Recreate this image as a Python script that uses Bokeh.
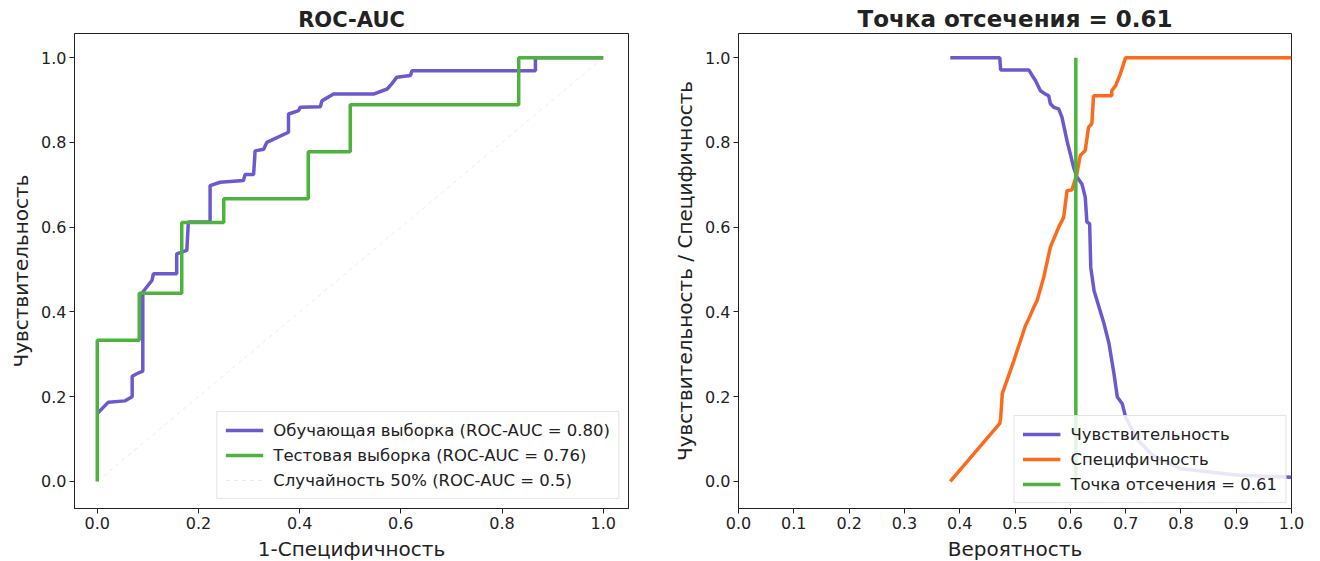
from bokeh.plotting import figure
from bokeh.layouts import row
from bokeh.models import Range1d, FixedTicker, PrintfTickFormatter, Legend, LegendItem
from bokeh.embed import file_html
from bokeh.resources import INLINE

# ---------------- data ----------------
train_fpr = [0.0, 0.022, 0.055, 0.069, 0.069, 0.078, 0.09, 0.09, 0.108, 0.111, 0.157, 0.157,
             0.177, 0.18, 0.223, 0.223, 0.243, 0.289, 0.292, 0.309, 0.312, 0.329, 0.335,
             0.378, 0.378, 0.398, 0.401, 0.441, 0.444, 0.467, 0.546, 0.573, 0.582, 0.592,
             0.619, 0.622, 0.866, 0.866, 1.0]
train_tpr = [0.16, 0.187, 0.19, 0.2, 0.248, 0.254, 0.26, 0.447, 0.474, 0.49, 0.49, 0.537,
             0.545, 0.612, 0.612, 0.698, 0.706, 0.71, 0.724, 0.724, 0.78, 0.784, 0.8,
             0.824, 0.867, 0.875, 0.883, 0.884, 0.898, 0.914, 0.914, 0.926, 0.938, 0.954,
             0.958, 0.969, 0.969, 1.0, 1.0]

test_fpr = [0.0, 0.0, 0.083, 0.083, 0.167, 0.167, 0.25, 0.25, 0.417, 0.417, 0.5, 0.5,
            0.833, 0.833, 1.0]
test_tpr = [0.0, 0.333, 0.333, 0.444, 0.444, 0.611, 0.611, 0.667, 0.667, 0.778, 0.778,
            0.889, 0.889, 1.0, 1.0]

chance_x = [0.0, 1.0]
chance_y = [0.0, 1.0]

sens_thr = [0.383, 0.4725, 0.474, 0.525, 0.531, 0.537, 0.546, 0.555, 0.561, 0.564, 0.57,
            0.579, 0.585, 0.594, 0.6, 0.606, 0.612, 0.621, 0.627, 0.63, 0.635, 0.637,
            0.643, 0.661, 0.67, 0.679, 0.685, 0.694, 0.7, 0.72, 0.75, 0.8, 0.9, 1.0]
sens_val = [1.0, 1.0, 0.971, 0.971, 0.958, 0.946, 0.922, 0.914, 0.91, 0.891, 0.883,
            0.879, 0.859, 0.804, 0.773, 0.741, 0.718, 0.702, 0.671, 0.612, 0.608, 0.505,
            0.45, 0.372, 0.325, 0.254, 0.199, 0.183, 0.152, 0.1, 0.06, 0.03, 0.015, 0.01]

spec_thr = [0.383, 0.4725, 0.474, 0.477, 0.498, 0.519, 0.525, 0.534, 0.54, 0.552, 0.564,
            0.579, 0.588, 0.594, 0.603, 0.612, 0.618, 0.627, 0.633, 0.639, 0.642, 0.675,
            0.675, 0.682, 0.69, 0.7, 1.0]
spec_val = [0.0, 0.137, 0.148, 0.207, 0.285, 0.368, 0.384, 0.411, 0.427, 0.482, 0.553,
            0.6, 0.623, 0.686, 0.688, 0.726, 0.769, 0.781, 0.836, 0.844, 0.91, 0.91,
            0.922, 0.934, 0.96, 1.0, 1.0]

cutoff = 0.61

x_ticks_left = [0.0, 0.2, 0.4, 0.6, 0.8, 1.0]
x_ticks_right = [0.0, 0.1, 0.2, 0.3, 0.4, 0.5, 0.6, 0.7, 0.8, 0.9, 1.0]
y_ticks = [0.0, 0.2, 0.4, 0.6, 0.8, 1.0]

BLUE = "#6A5ACD"
GREEN = "#4DB33D"
ORANGE = "#FA6B1E"
TXT = "#222222"
FONT = "DejaVu Sans"
LW = 3.5


def style(p, xticks, xlabel, ylabel, title_size):
    p.xgrid.visible = False
    p.ygrid.visible = False
    p.outline_line_color = "#222222"
    p.outline_line_width = 1
    p.xaxis.ticker = FixedTicker(ticks=xticks)
    p.yaxis.ticker = FixedTicker(ticks=y_ticks)
    for ax in (p.xaxis[0], p.yaxis[0]):
        ax.formatter = PrintfTickFormatter(format="%.1f")
        ax.axis_line_color = "#222222"
        ax.major_tick_line_color = "#222222"
        ax.major_tick_out = 5
        ax.major_tick_in = 0
        ax.minor_tick_line_color = None
        ax.major_label_text_font = FONT
        ax.major_label_text_font_size = "16px"
        ax.major_label_text_color = TXT
        ax.axis_label_text_font = FONT
        ax.axis_label_text_font_size = "20px"
        ax.axis_label_text_font_style = "normal"
        ax.axis_label_text_color = TXT
        ax.major_label_standoff = 3
        ax.axis_label_standoff = 5
    p.xaxis.axis_label = xlabel
    p.yaxis.axis_label = ylabel
    p.title.text_font = FONT
    p.title.text_font_size = title_size
    p.title.text_font_style = "bold"
    p.title.text_color = TXT
    p.title.align = "center"
    p.title.standoff = 4


def style_legend(leg):
    leg.label_text_font = FONT
    leg.label_text_font_size = "16.5px"
    leg.label_text_color = TXT
    leg.glyph_width = 38
    leg.glyph_height = 20
    leg.label_height = 20
    leg.label_standoff = 10
    leg.spacing = 5
    leg.padding = 8
    leg.border_line_color = "#cccccc"
    leg.border_line_width = 1
    leg.background_fill_color = "white"
    leg.background_fill_alpha = 0.85
    leg.margin = 9


# ---------------- left: ROC ----------------
p1 = figure(frame_width=554, frame_height=475, min_border_left=74, min_border_right=40,
            min_border_top=33, min_border_bottom=53,
            x_range=Range1d(-0.045, 1.05), y_range=Range1d(-0.064, 1.057),
            title="ROC-AUC", output_backend="svg", toolbar_location=None)
style(p1, x_ticks_left, "1-Специфичность", "Чувствительность", "21px")

r_ch = p1.line(chance_x, chance_y, line_color="#dddddd", line_width=1, line_dash="4 4",
               line_alpha=0.6)
r_tr = p1.line(train_fpr, train_tpr, line_color=BLUE, line_width=LW)
r_te = p1.line(test_fpr, test_tpr, line_color=GREEN, line_width=LW)

leg1 = Legend(items=[
    LegendItem(label="Обучающая выборка (ROC-AUC = 0.80)", renderers=[r_tr]),
    LegendItem(label="Тестовая выборка (ROC-AUC = 0.76)", renderers=[r_te]),
    LegendItem(label="Случайность 50% (ROC-AUC = 0.5)", renderers=[r_ch]),
], location="bottom_right")
style_legend(leg1)
p1.add_layout(leg1, "center")

# ---------------- right: cutoff ----------------
p2 = figure(frame_width=553, frame_height=475, min_border_left=70, min_border_right=20,
            min_border_top=33, min_border_bottom=53,
            x_range=Range1d(0.0, 1.0), y_range=Range1d(-0.064, 1.057),
            title="Точка отсечения = 0.61", output_backend="svg", toolbar_location=None)
style(p2, x_ticks_right, "Вероятность", "Чувствительность / Специфичность", "23px")

r_se = p2.line(sens_thr, sens_val, line_color=BLUE, line_width=LW)
r_sp = p2.line(spec_thr, spec_val, line_color=ORANGE, line_width=LW)
r_cu = p2.line([cutoff, cutoff], [0.0, 1.0], line_color=GREEN, line_width=LW)

leg2 = Legend(items=[
    LegendItem(label="Чувствительность", renderers=[r_se]),
    LegendItem(label="Специфичность", renderers=[r_sp]),
    LegendItem(label="Точка отсечения = 0.61", renderers=[r_cu]),
], location="bottom_right")
style_legend(leg2)
leg2.margin = 5
p2.add_layout(leg2, "center")

layout = row(p1, p2)
open("out.html", "w").write(file_html(layout, INLINE))
